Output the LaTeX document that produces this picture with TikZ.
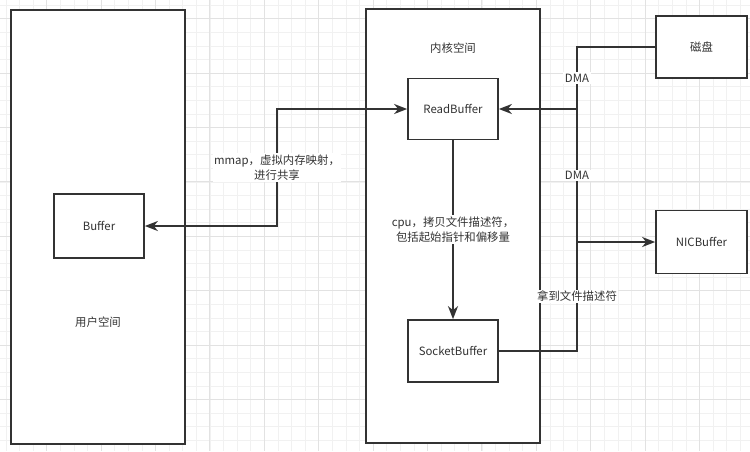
\documentclass[tikz,border=0pt]{standalone}
\usepackage{fontspec}
\setmainfont{Noto Sans CJK SC}
\usetikzlibrary{arrows.meta}

\definecolor{linegray}{HTML}{333333}
\definecolor{textgray}{HTML}{333333}
\definecolor{gridminor}{HTML}{F1F1F1}
\definecolor{gridmajor}{HTML}{E2E2E2}

\begin{document}
\begin{tikzpicture}[x=1pt, y=-1pt,
    every node/.style={font=\fontsize{11.4}{15}\selectfont, text=textgray},
    box/.style={draw=linegray, line width=1.7pt, fill=white, minimum width=90pt, minimum height=62pt},
    space/.style={box, minimum width=174pt, minimum height=434pt},
    lbl/.style={fill=white, align=center, inner sep=1.5pt},
    conn/.style={draw=linegray, line width=1.8pt},
    tip/.style={-{Stealth[length=13pt, width=10pt, inset=4pt]}},
    tips/.style={{Stealth[length=13pt, width=10pt, inset=4pt]}-{Stealth[length=13pt, width=10pt, inset=4pt]}}]

    \useasboundingbox (0,0) rectangle (750,451);

    % grid background
    \begin{scope}
        \clip (0,0) rectangle (750,451);
        \fill[white] (0,0) rectangle (750,451);
        \foreach \i in {0,...,55} {
            \draw[gridminor, line width=0.6pt] ({5.8+\i*13.6},0) -- ++(0,451);
        }
        \foreach \i in {0,...,33} {
            \draw[gridminor, line width=0.6pt] (0,{5+\i*13.6}) -- ++(750,0);
        }
        \foreach \i in {0,...,13} {
            \draw[gridmajor, line width=0.8pt] ({46.6+\i*54.4},0) -- ++(0,451);
        }
        \foreach \i in {0,...,8} {
            \draw[gridmajor, line width=0.8pt] (0,{18.6+\i*54.4}) -- ++(750,0);
        }
    \end{scope}

    % spaces
    \node[space] (user) at (98,227) {};
    \node (usertitle) at (98,322) {用户空间};
    \node[space] (kernel) at (453,226) {};
    \node (kerneltitle) at (453,48) {内核空间};

    % buffers
    \node[box, minimum height=64pt] (buf) at (99,226) {Buffer};
    \node[box, minimum height=61pt] (readbuf) at (453,109) {ReadBuffer};
    \node[box] (sockbuf) at (453,351) {SocketBuffer};
    \node[box, minimum width=91pt] (disk) at (701.5,47) {磁盘};
    \node[box, minimum width=91pt, minimum height=63pt] (nicbuf) at (701.5,242) {NICBuffer};

    \coordinate (mmapx) at (277,0);
    \coordinate (dmax) at (577,0);

    % connectors
    \draw[conn, tips]
        (buf.east) -- (buf.east -| mmapx)
        -- node[lbl] {mmap，虚拟内存映射，\\进行共享} (readbuf.west -| mmapx)
        -- (readbuf.west);
    \draw[conn, tip] (readbuf) -- node[lbl] {cpu，拷贝文件描述符，\\包括起始指针和偏移量} (sockbuf);
    \draw[conn, tip] (disk.west) -- (disk.west -| dmax)
        -- node[lbl] {DMA} (readbuf.east -| dmax) -- (readbuf.east);
    \draw[conn, tip] (sockbuf.east) -- (sockbuf.east -| dmax)
        -- node[lbl] {拿到文件描述符} (nicbuf.west -| dmax) -- (nicbuf.west);
    \draw[conn] (nicbuf.west -| dmax) -- node[lbl] {DMA} (readbuf.east -| dmax);

\end{tikzpicture}
\end{document}
